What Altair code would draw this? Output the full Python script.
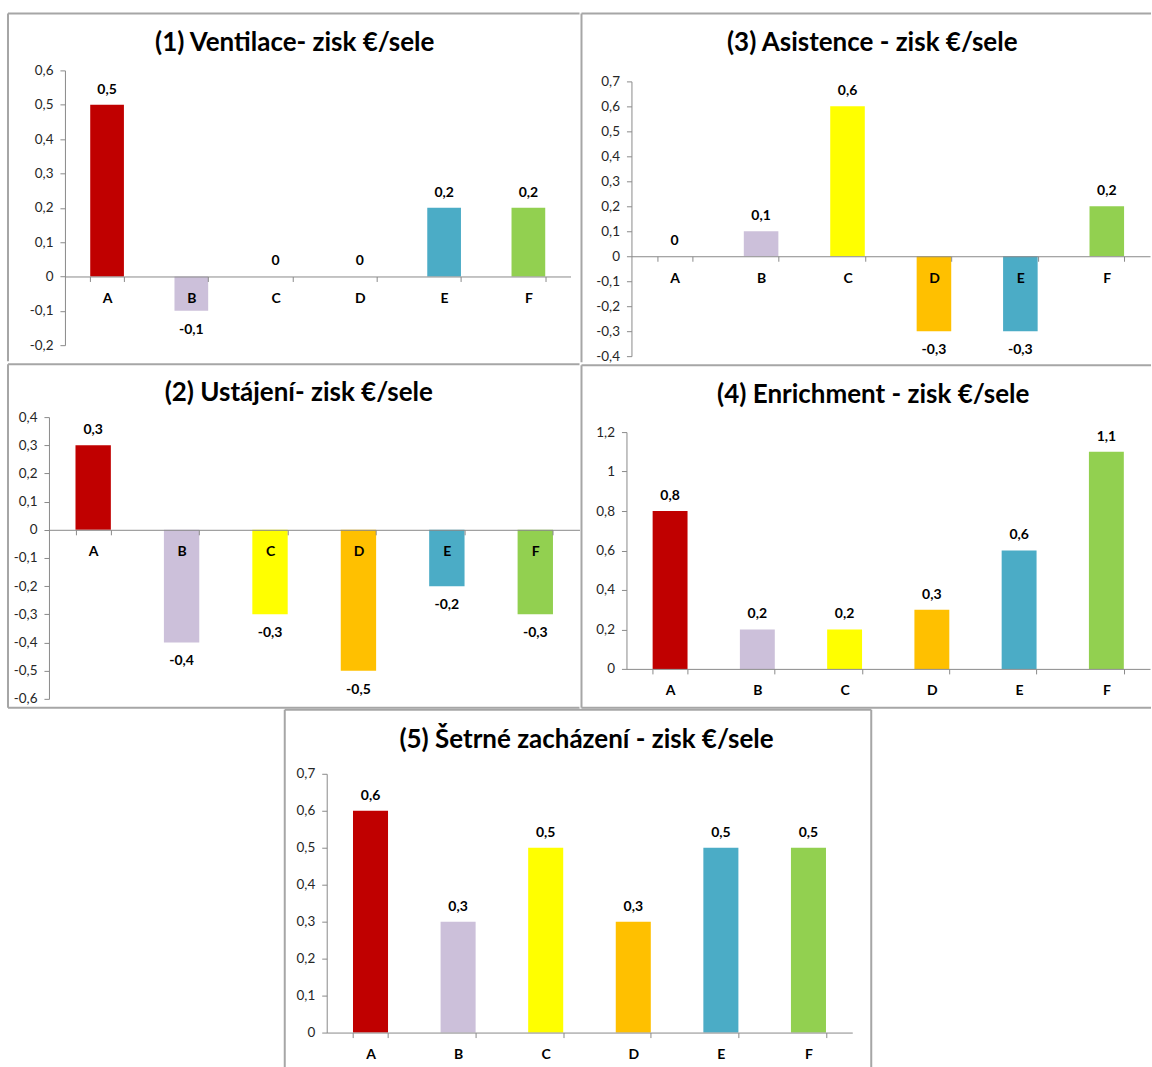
import altair as alt
import pandas as pd

# Categories and their bar colours (same in every panel)
categories = ["A", "B", "C", "D", "E", "F"]
bar_colors = ["#C00000", "#CCC0DA", "#FFFF00", "#FFC000", "#4BACC6", "#92D050"]

# Profit per piglet (EUR) for each measure
ventilace = [0.5, -0.1, 0.0, 0.0, 0.2, 0.2]
ustajeni = [0.3, -0.4, -0.3, -0.5, -0.2, -0.3]
asistence = [0.0, 0.1, 0.6, -0.3, -0.3, 0.2]
enrichment = [0.8, 0.2, 0.2, 0.3, 0.6, 1.1]
setrne = [0.6, 0.3, 0.5, 0.3, 0.5, 0.5]

titles = [
    "(1) Ventilace- zisk €/sele",
    "(2) Ustájení- zisk €/sele",
    "(3) Asistence - zisk €/sele",
    "(4) Enrichment - zisk €/sele",
    "(5) Šetrné zacházení - zisk €/sele",
]

# y-axis range and tick step of each panel
ventilace_axis = (-0.2, 0.6, 0.1)
ustajeni_axis = (-0.6, 0.4, 0.1)
asistence_axis = (-0.4, 0.7, 0.1)
enrichment_axis = (0.0, 1.2, 0.2)
setrne_axis = (0.0, 0.7, 0.1)

FONT = "Lato"
AXIS_GRAY = "#8A8A8A"
FRAME_GRAY = "#A6A6A6"

# decimal comma, plain hyphen for negatives, no trailing zeros
FMT = "replace(replace(format({f}, '.1~f'), '.', ','), '\u2212', '-')"

one_row = pd.DataFrame({"k": [0]})


def frame_line(x1, x2, y1, y2):
    return alt.Chart(one_row).mark_rule(color=FRAME_GRAY, strokeWidth=2).encode(
        x=alt.value(x1), x2=alt.value(x2), y=alt.value(y1), y2=alt.value(y2)
    )


def panel(values, title, axis_range, cell_w, cell_h, x_range, y_range, lines, title_xy):
    """One framed bar chart; the plot region sits inside a cell of cell_w x cell_h."""
    y_min, y_max, y_step = axis_range
    df = pd.DataFrame({"kategorie": categories, "zisk": values})
    n_ticks = int(round((y_max - y_min) / y_step)) + 1
    y_ticks = [round(y_min + i * y_step, 1) for i in range(n_ticks)]

    y_bottom, y_top = y_range
    zero_y = y_bottom + (y_top - y_bottom) * (0 - y_min) / (y_max - y_min)

    x_enc = alt.X(
        "kategorie:N",
        sort=categories,
        scale=alt.Scale(range=list(x_range), paddingInner=0.6, paddingOuter=0.3),
        axis=alt.Axis(
            title=None,
            orient="bottom",
            offset=zero_y - cell_h,
            labelAngle=0,
            tickBand="extent",
            tickSize=5,
            tickColor=AXIS_GRAY,
            domainColor=AXIS_GRAY,
            labelFont=FONT,
            labelFontSize=14,
            labelFontWeight="bold",
            labelColor="#000000",
            labelBaseline="middle",
            labelPadding=17,
            zindex=1,
        ),
    )
    y_enc = alt.Y(
        "zisk:Q",
        scale=alt.Scale(domain=[y_min, y_max], range=[y_bottom, y_top], nice=False),
        axis=alt.Axis(
            title=None,
            orient="left",
            offset=-x_range[0],
            values=y_ticks,
            labelExpr=FMT.format(f="datum.value"),
            grid=False,
            tickSize=5,
            tickColor=AXIS_GRAY,
            domainColor=AXIS_GRAY,
            labelFont=FONT,
            labelFontSize=13.5,
            labelColor="#262626",
            labelPadding=7,
            zindex=1,
        ),
    )

    base = alt.Chart(df).encode(x=x_enc, y=y_enc)
    bars = base.mark_bar().encode(
        color=alt.Color(
            "kategorie:N",
            scale=alt.Scale(domain=categories, range=bar_colors),
            legend=None,
        )
    )
    text_style = dict(font=FONT, fontSize=14, fontWeight="bold", color="#000000", baseline="middle")
    labels_up = (
        base.transform_filter("datum.zisk >= 0")
        .transform_calculate(popisek=FMT.format(f="datum.zisk"))
        .mark_text(dy=-15, **text_style)
        .encode(text="popisek:N")
    )
    labels_down = (
        base.transform_filter("datum.zisk < 0")
        .transform_calculate(popisek=FMT.format(f="datum.zisk"))
        .mark_text(dy=19, **text_style)
        .encode(text="popisek:N")
    )

    tx, ty = title_xy
    heading = alt.Chart(pd.DataFrame({"nazev": [title]})).mark_text(
        font=FONT, fontSize=26, fontWeight="bold", color="#000000",
        align="center", baseline="middle",
    ).encode(x=alt.value(tx), y=alt.value(ty), text="nazev:N")

    layers = [frame_line(*ln) for ln in lines] + [bars, labels_up, labels_down, heading]
    return alt.layer(*layers).properties(width=cell_w, height=cell_h)


p1 = panel(
    ventilace, titles[0], ventilace_axis, 573, 349,
    x_range=(58, 564), y_range=(333, 58),
    lines=[(1, 1, 1, 349), (1, 573, 1, 1)],
    title_xy=(288, 31),
)
p3 = panel(
    asistence, titles[2], asistence_axis, 571, 349,
    x_range=(51, 570), y_range=(344, 69),
    lines=[(1, 1, 1, 350), (1, 571, 1, 1)],
    title_xy=(292, 31),
)
p2 = panel(
    ustajeni, titles[1], ustajeni_axis, 573, 346,
    x_range=(42, 573), y_range=(336, 54),
    lines=[(1, 1, 1, 345), (1, 573, 1, 1), (1, 573, 345, 345)],
    title_xy=(292, 30),
)
p4 = panel(
    enrichment, titles[3], enrichment_axis, 571, 346,
    x_range=(46, 570), y_range=(306, 69),
    lines=[(1, 1, 2, 345), (1, 571, 2, 2), (1, 571, 345, 345)],
    title_xy=(293, 32),
)
p5 = panel(
    setrne, titles[4], setrne_axis, 866, 359,
    x_range=(320, 846), y_range=(324, 65),
    lines=[(278, 278, 1, 359), (865, 865, 1, 359), (278, 865, 1, 1)],
    title_xy=(580, 31),
)

chart = (
    alt.vconcat(
        alt.hconcat(p1, p3, spacing=0),
        alt.hconcat(p2, p4, spacing=0),
        p5,
        spacing=0,
    )
    .properties(
        padding={"left": 7, "top": 12, "right": 0, "bottom": 0},
        background="white",
    )
    .configure_view(strokeWidth=0)
)

chart.save("out.html", embed_options={"renderer": "svg", "actions": False})
